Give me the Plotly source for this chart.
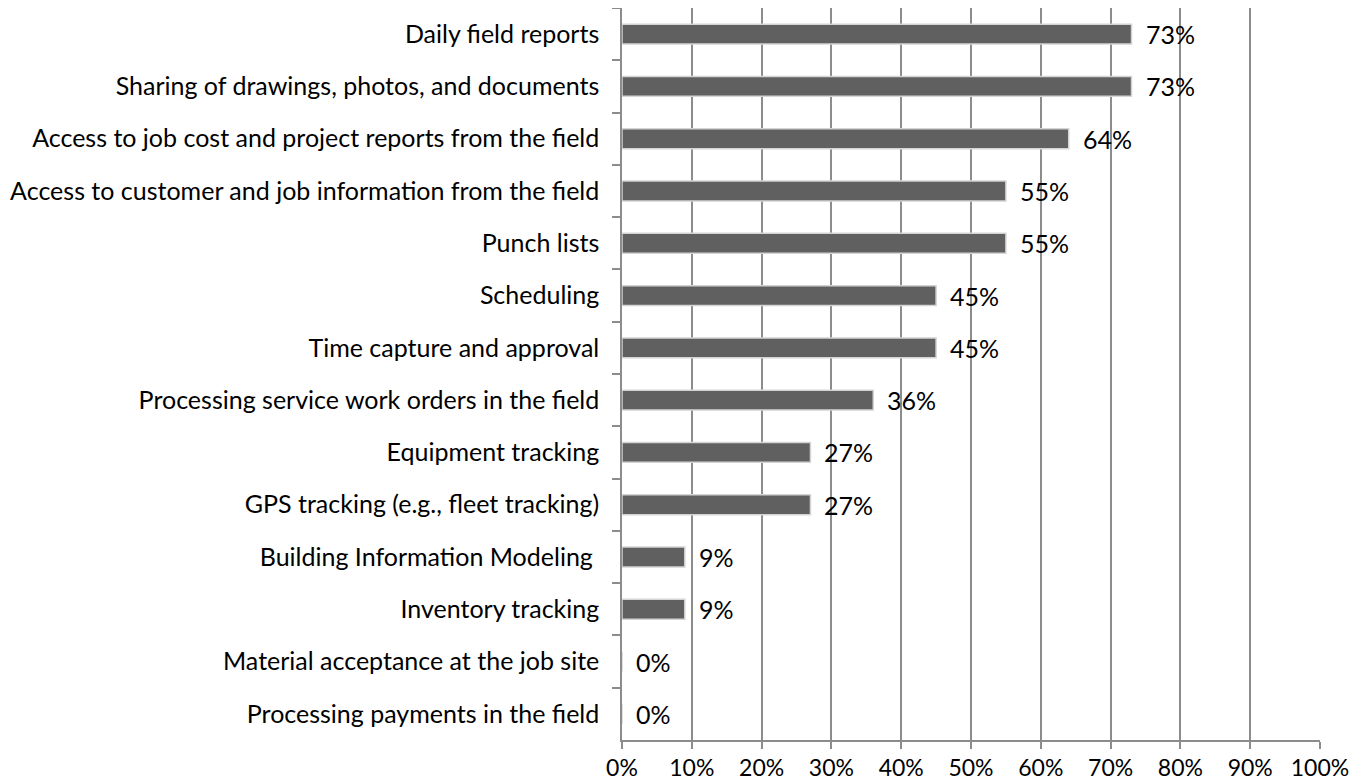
import plotly.graph_objects as go

categories = [
    "Daily field reports",
    "Sharing of drawings, photos, and documents",
    "Access to job cost and project reports from the field",
    "Access to customer and job information from the field",
    "Punch lists",
    "Scheduling",
    "Time capture and approval",
    "Processing service work orders in the field",
    "Equipment tracking",
    "GPS tracking (e.g., fleet tracking)",
    "Building Information Modeling\u00a0",
    "Inventory tracking",
    "Material acceptance at the job site",
    "Processing payments in the field",
]
values = [0.73, 0.73, 0.64, 0.55, 0.55, 0.45, 0.45, 0.36, 0.27, 0.27, 0.09, 0.09, 0.0, 0.0]
value_labels = ["73%", "73%", "64%", "55%", "55%", "45%", "45%", "36%", "27%", "27%", "9%", "9%", "0%", "0%"]

FONT = "Lato"
FS = 25
grid = "#8c8c8c"

fig = go.Figure()
fig.add_trace(go.Bar(
    x=values, y=categories, orientation="h",
    width=0.38,
    marker=dict(color="#606060", line=dict(color="#d4d4d4", width=1.5)),
    hoverinfo="skip",
))

for c, v, t in zip(categories, values, value_labels):
    fig.add_annotation(x=v, y=c, text=t, showarrow=False, xanchor="left",
                       xshift=12, font=dict(family=FONT, size=FS, color="#000"))

fig.update_layout(
    width=1360, height=776,
    margin=dict(l=614, r=48, t=0, b=44),
    paper_bgcolor="white", plot_bgcolor="white",
    showlegend=False,
    font=dict(family=FONT, size=FS, color="#000"),
)
fig.update_xaxes(
    range=[0, 1], dtick=0.1, tickformat=".0%",
    showgrid=True, gridcolor=grid, gridwidth=1.5,
    showline=True, linecolor=grid, linewidth=1.5,
    ticks="outside", ticklen=7, tickcolor=grid, tickwidth=1.5,
    ticklabelstandoff=0, automargin=False,
    tickfont=dict(size=23),
    zeroline=False, fixedrange=True,
)
fig.update_yaxes(
    autorange="reversed", type="category",
    showgrid=False,
    showline=True, linecolor=grid, linewidth=1.5,
    ticks="outside", ticklen=8, tickcolor=grid, tickwidth=1.5,
    tickson="boundaries",
    ticklabelstandoff=16, automargin=False,
    fixedrange=True,
)

fig.write_html("out.html")
